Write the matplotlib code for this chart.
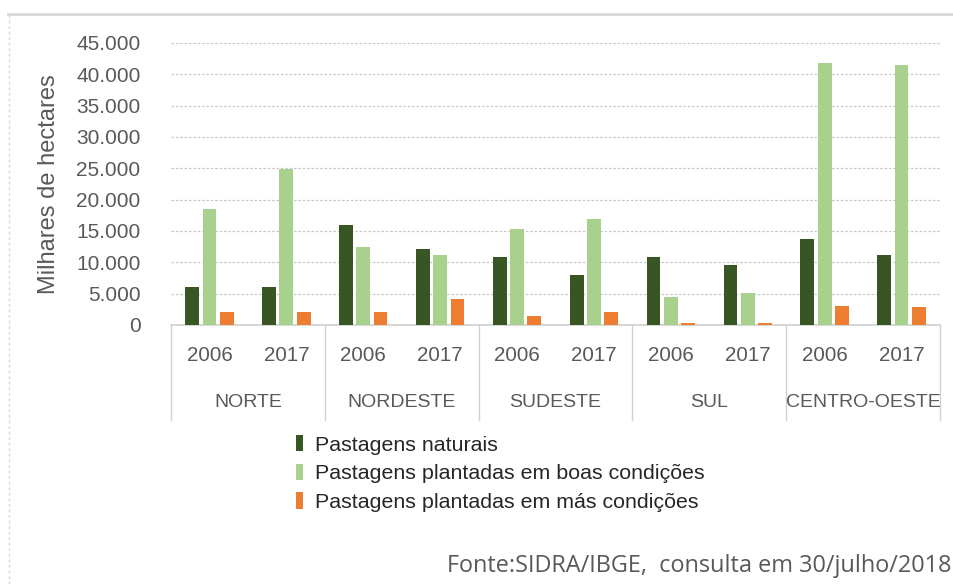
import numpy as np
import matplotlib.pyplot as plt
from matplotlib.patches import Patch
from matplotlib.lines import Line2D

# dados (milhares de hectares)
regioes = ['NORTE', 'NORDESTE', 'SUDESTE', 'SUL', 'CENTRO-OESTE']
anos = ['2006', '2017']
naturais = [6000, 6000, 15900, 12100, 10800, 7900, 10800, 9500, 13700, 11100]
boas = [18500, 24900, 12400, 11100, 15300, 16900, 4400, 5100, 41800, 41500]
mas = [2100, 2100, 2100, 4100, 1500, 2100, 300, 300, 3100, 2800]
series = ['Pastagens naturais', 'Pastagens plantadas em boas condições',
          'Pastagens plantadas em más condições']
cores = ['#375623', '#a9d18e', '#ed7d31']
fonte = 'Fonte:SIDRA/IBGE,  consulta em 30/julho/2018'

cinza = '#595959'
plt.rcParams['font.family'] = ['Liberation Sans', 'DejaVu Sans']

W, H = 954, 584
fig = plt.figure(figsize=(W/100, H/100), dpi=100)
ax = fig.add_axes([171/W, 1-325/H, (940-171)/W, (325-43)/H])

x = np.arange(len(naturais))
larg = 0.18
esp = 0.225
for k, (v, c) in enumerate(zip([naturais, boas, mas], cores)):
    ax.bar(x + (k-1)*esp, v, larg, color=c, zorder=3)

ax.set_xlim(-0.5, len(naturais)-0.5)
ax.set_ylim(0, 45000)
ax.set_yticks(np.arange(0, 45001, 5000))
ax.set_yticklabels([f'{int(t):,}'.replace(',', '.') for t in np.arange(0, 45001, 5000)])
ax.tick_params(axis='y', length=0, pad=22, labelsize=15, labelcolor=cinza)
ax.set_xticks([])
ax.grid(axis='y', color='#c8c8c8', linestyle=(0, (2, 1.5)), linewidth=0.9, zorder=0)
for s in ['top', 'right', 'left']:
    ax.spines[s].set_visible(False)
ax.spines['bottom'].set_color('#d0d0d0')
ax.spines['bottom'].set_linewidth(1.2)
ax.set_ylabel('Milhares de hectares', fontsize=17, color=cinza)
ax.yaxis.set_label_coords(-111/769, 0.5)

# eixo de categorias em dois níveis
tr = ax.get_xaxis_transform()
fundo = -95/282
for i in range(len(regioes)+1):
    ax.plot([i*2-0.5]*2, [0, fundo], transform=tr, color='#d0d0d0',
            linewidth=1, clip_on=False)
for i in range(len(naturais)):
    ax.text(i, -31/282, anos[i % 2], transform=tr, ha='center', va='center',
            fontsize=14.8, color=cinza)
for i, r in enumerate(regioes):
    ax.text(i*2+0.5, -78/282, r, transform=tr, ha='center', va='center',
            fontsize=14, color=cinza)

# legenda
alcas = [Patch(facecolor=c, edgecolor='none') for c in cores]
fig.legend(alcas, series, loc='upper left', bbox_to_anchor=(296/W, 1-435/H),
           frameon=False, fontsize=15.4, handlelength=0.35, handleheight=0.8,
           handletextpad=0.55, labelspacing=0.42, borderaxespad=0, borderpad=0,
           labelcolor='#262626')

fig.text(447/W, 1-566/H, fonte, ha='left', va='center', fontsize=16.9,
         color=cinza, family=['Open Sans', 'DejaVu Sans'])

# moldura
fig.add_artist(Line2D([8/W, 1], [1-14/H]*2, transform=fig.transFigure,
                      color='#d9d9d9', linewidth=2))
fig.add_artist(Line2D([9/W]*2, [0, 1-14/H], transform=fig.transFigure,
                      color='#d9d9d9', linewidth=1, linestyle=(0, (2, 2))))

fig.savefig('out.png', dpi=100, facecolor='white')
